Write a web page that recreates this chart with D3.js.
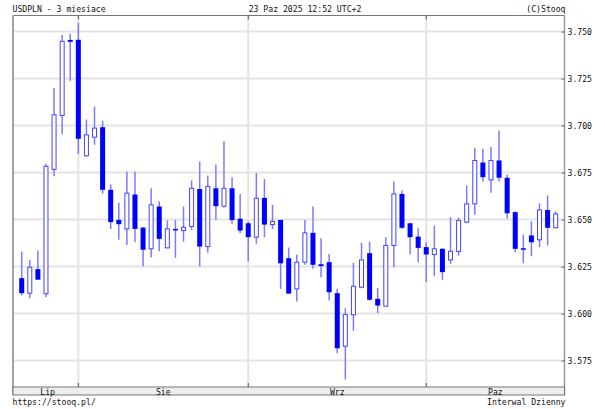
<!DOCTYPE html>
<html><head><meta charset="utf-8">
<script src="https://cdn.jsdelivr.net/npm/d3@7"></script>
<style>
body{margin:0;background:#fff}
svg{display:block}
text{font-family:"DejaVu Sans Mono",monospace;font-size:9px;fill:#111}
</style>
</head><body>
<svg id="c" width="605" height="409"></svg>
<script>
const dates=["2025-07-23","2025-07-24","2025-07-25","2025-07-28","2025-07-29","2025-07-30","2025-07-31",
"2025-08-01","2025-08-04","2025-08-05","2025-08-06","2025-08-07","2025-08-08","2025-08-11","2025-08-12","2025-08-13","2025-08-14","2025-08-15","2025-08-18","2025-08-19","2025-08-20","2025-08-21","2025-08-22","2025-08-25","2025-08-26","2025-08-27","2025-08-28","2025-08-29",
"2025-09-01","2025-09-02","2025-09-03","2025-09-04","2025-09-05","2025-09-08","2025-09-09","2025-09-10","2025-09-11","2025-09-12","2025-09-15","2025-09-16","2025-09-17","2025-09-18","2025-09-19","2025-09-22","2025-09-23","2025-09-24","2025-09-25","2025-09-26","2025-09-29","2025-09-30",
"2025-10-01","2025-10-02","2025-10-03","2025-10-06","2025-10-07","2025-10-08","2025-10-09","2025-10-10","2025-10-13","2025-10-14","2025-10-15","2025-10-16","2025-10-17","2025-10-20","2025-10-21","2025-10-22","2025-10-23"];
const open=[3.6188,3.6108,3.6236,3.6105,3.6767,3.7053,3.7455,
3.7456,3.6839,3.6938,3.6991,3.6658,3.6498,3.6450,3.6633,3.6457,3.6344,3.6569,3.6349,3.6450,3.6441,3.6463,3.6662,3.6356,3.6666,3.6571,3.6666,3.6504,
3.6480,3.6406,3.6615,3.6473,3.6498,3.6294,3.6131,3.6273,3.6429,3.6262,3.6273,3.6108,3.5826,3.5993,3.6140,3.6321,3.6078,3.6039,3.6362,3.6636,3.6480,3.6409,
3.6353,3.6314,3.6344,3.6285,3.6330,3.6486,3.6583,3.6803,3.6711,3.6814,3.6722,3.6539,3.6347,3.6415,3.6392,3.6551,3.6456];
const high=[3.6330,3.6285,3.6335,3.6796,3.7200,3.7482,3.7488,
3.7546,3.7032,3.7101,3.7027,3.6686,3.6589,3.6755,3.6755,3.6459,3.6666,3.6597,3.6495,3.6497,3.6569,3.6707,3.6808,3.6734,3.6792,3.6916,3.6725,3.6636,
3.6489,3.6748,3.6716,3.6578,3.6498,3.6351,3.6312,3.6498,3.6569,3.6400,3.6317,3.6131,3.6028,3.6269,3.6376,3.6383,3.6136,3.6406,3.6702,3.6654,3.6480,3.6454,
3.6379,3.6468,3.6347,3.6512,3.6509,3.6681,3.6881,3.6876,3.6885,3.6973,3.6739,3.6544,3.6420,3.6491,3.6587,3.6628,3.6544];
const low=[3.6096,3.6081,3.6180,3.6087,3.6730,3.6954,3.7238,
3.6849,3.6835,3.6897,3.6637,3.6450,3.6392,3.6365,3.6379,3.6250,3.6299,3.6331,3.6349,3.6296,3.6383,3.6445,3.6251,3.6323,3.6498,3.6562,3.6477,3.6427,
3.6276,3.6371,3.6406,3.6450,3.6131,3.6106,3.6064,3.6259,3.6238,3.6193,3.6069,3.5789,3.5649,3.5909,3.6134,3.6069,3.6001,3.6037,3.6246,3.6450,3.6314,3.6273,
3.6166,3.6198,3.6179,3.6264,3.6308,3.6480,3.6525,3.6702,3.6642,3.6704,3.6504,3.6326,3.6267,3.6305,3.6352,3.6362,3.6454];
const close=[3.6108,3.6246,3.6180,3.6783,3.7057,3.7448,3.7445,
3.6929,3.6950,3.6986,3.6658,3.6486,3.6475,3.6640,3.6450,3.6339,3.6578,3.6397,3.6450,3.6443,3.6459,3.6666,3.6356,3.6675,3.6571,3.6666,3.6497,3.6441,
3.6406,3.6613,3.6473,3.6489,3.6267,3.6106,3.6273,3.6429,3.6259,3.6252,3.6113,3.5815,3.5994,3.6145,3.6285,3.6073,3.6042,3.6362,3.6636,3.6456,3.6406,3.6349,
3.6314,3.6344,3.6220,3.6331,3.6495,3.6583,3.6814,3.6725,3.6814,3.6722,3.6533,3.6344,3.6339,3.6379,3.6551,3.6456,3.6530];
const yTicks=[3.575,3.600,3.625,3.650,3.675,3.700,3.725,3.750];
const monthStarts=["2025-08-01","2025-09-01","2025-10-01"];
const monthLabels=["Lip","Sie","Wrz","Paz"];
const titleLeft="USDPLN - 3 miesiace";
const titleMid="23 Paz 2025 12:52 UTC+2";
const titleRight="(C)Stooq";
const footLeft="https://stooq.pl/";
const footRight="Interwal Dzienny";

const svg=d3.select("#c");
const L=13, R=564.5, T=15.5, B=387;
const x=d3.scalePoint().domain(dates).range([21.7,555.7]);
const y=d3.scaleLinear().domain([3.575,3.750]).range([360.5,31.5]);
const CW=4.9;
function fit(sel){sel.each(function(){const t=d3.select(this);const n=t.text().length;t.attr("textLength",n*CW).attr("lengthAdjust","spacingAndGlyphs");});}

// gridlines
svg.append("g").selectAll("line").data(yTicks).join("line")
  .attr("x1",L).attr("x2",R-2).attr("y1",d=>y(d)).attr("y2",d=>y(d))
  .attr("stroke","#e4e4e4").attr("stroke-width",2);
svg.append("g").selectAll("line").data(monthStarts).join("line")
  .attr("x1",d=>x(d)).attr("x2",d=>x(d)).attr("y1",T).attr("y2",B)
  .attr("stroke","#e4e4e4").attr("stroke-width",2);

// candles
svg.append("clipPath").attr("id","clp").append("rect").attr("x",L).attr("y",T).attr("width",R-L).attr("height",B-T);
const data=dates.map((d,i)=>({d,o:open[i],h:high[i],l:low[i],c:close[i]}));
const cg=svg.append("g").attr("clip-path","url(#clp)");
cg.selectAll("line.w").data(data).join("line").attr("class","w")
  .attr("x1",d=>x(d.d)).attr("x2",d=>x(d.d)).attr("y1",d=>y(d.h)).attr("y2",d=>y(d.l))
  .attr("stroke","#7c7cff").attr("stroke-width",1.5);
cg.selectAll("rect.b").data(data).join("rect").attr("class","b")
  .each(function(d){
    const up=d.c>=d.o;
    const top=y(Math.max(d.o,d.c)), bot=y(Math.min(d.o,d.c));
    const r=d3.select(this);
    if(up){
      r.attr("x",x(d.d)-2).attr("width",4).attr("y",top).attr("height",Math.max(bot-top,1))
       .attr("fill","#fff").attr("stroke","#4444ff").attr("stroke-width",1);
    } else {
      r.attr("x",x(d.d)-2.5).attr("width",5).attr("y",top).attr("height",Math.max(bot-top,1.5))
       .attr("fill","#0000ff");
    }
  });

// frame
svg.append("line").attr("x1",L).attr("x2",L).attr("y1",T).attr("y2",395).attr("stroke","#666").attr("stroke-width",1.2);
svg.append("line").attr("x1",L).attr("x2",R).attr("y1",T).attr("y2",T).attr("stroke","#777").attr("stroke-width",1.2);
svg.append("line").attr("x1",R).attr("x2",R).attr("y1",T).attr("y2",395).attr("stroke","#999").attr("stroke-width",1.5);
// month ticks top & bottom
svg.append("g").selectAll("line").data(monthStarts).join("line")
  .attr("x1",d=>x(d)).attr("x2",d=>x(d)).attr("y1",T).attr("y2",T+4).attr("stroke","#555").attr("stroke-width",1);
svg.append("g").selectAll("line").data(monthStarts).join("line")
  .attr("x1",d=>x(d)).attr("x2",d=>x(d)).attr("y1",B-4).attr("y2",B).attr("stroke","#555").attr("stroke-width",1);

// y axis
const ya=svg.append("g").attr("transform",`translate(${R},0)`)
  .call(d3.axisRight(y).tickValues(yTicks).tickSize(-3).tickPadding(3).tickFormat(d3.format(".3f")));
ya.select(".domain").remove();
ya.selectAll(".tick line").attr("stroke","#555");
ya.selectAll("text").attr("font-family",null).attr("font-size",null).attr("fill","#111").attr("dy","0.35em");
fit(ya.selectAll("text"));

// x strip
svg.append("rect").attr("x",L).attr("y",B).attr("width",R-L).attr("height",8)
  .attr("fill","#eeeeee").attr("stroke","#777").attr("stroke-width",1);
const bounds=[L].concat(monthStarts.map(m=>x(m))).concat([R]);
const ml=svg.append("g").selectAll("text").data(monthLabels).join("text")
  .attr("x",(d,i)=>(bounds[i]+bounds[i+1])/2+(i===0?2:0)).attr("y",394.5).attr("text-anchor","middle").text(d=>d);
fit(ml);

// header/footer
fit(svg.append("text").attr("x",12.5).attr("y",12).text(titleLeft));
fit(svg.append("text").attr("x",305).attr("y",12).attr("text-anchor","middle").text(titleMid));
fit(svg.append("text").attr("x",565.5).attr("y",12).attr("text-anchor","end").text(titleRight));
fit(svg.append("text").attr("x",12.5).attr("y",405).text(footLeft));
fit(svg.append("text").attr("x",565.5).attr("y",405).attr("text-anchor","end").text(footRight));
</script>
</body></html>
